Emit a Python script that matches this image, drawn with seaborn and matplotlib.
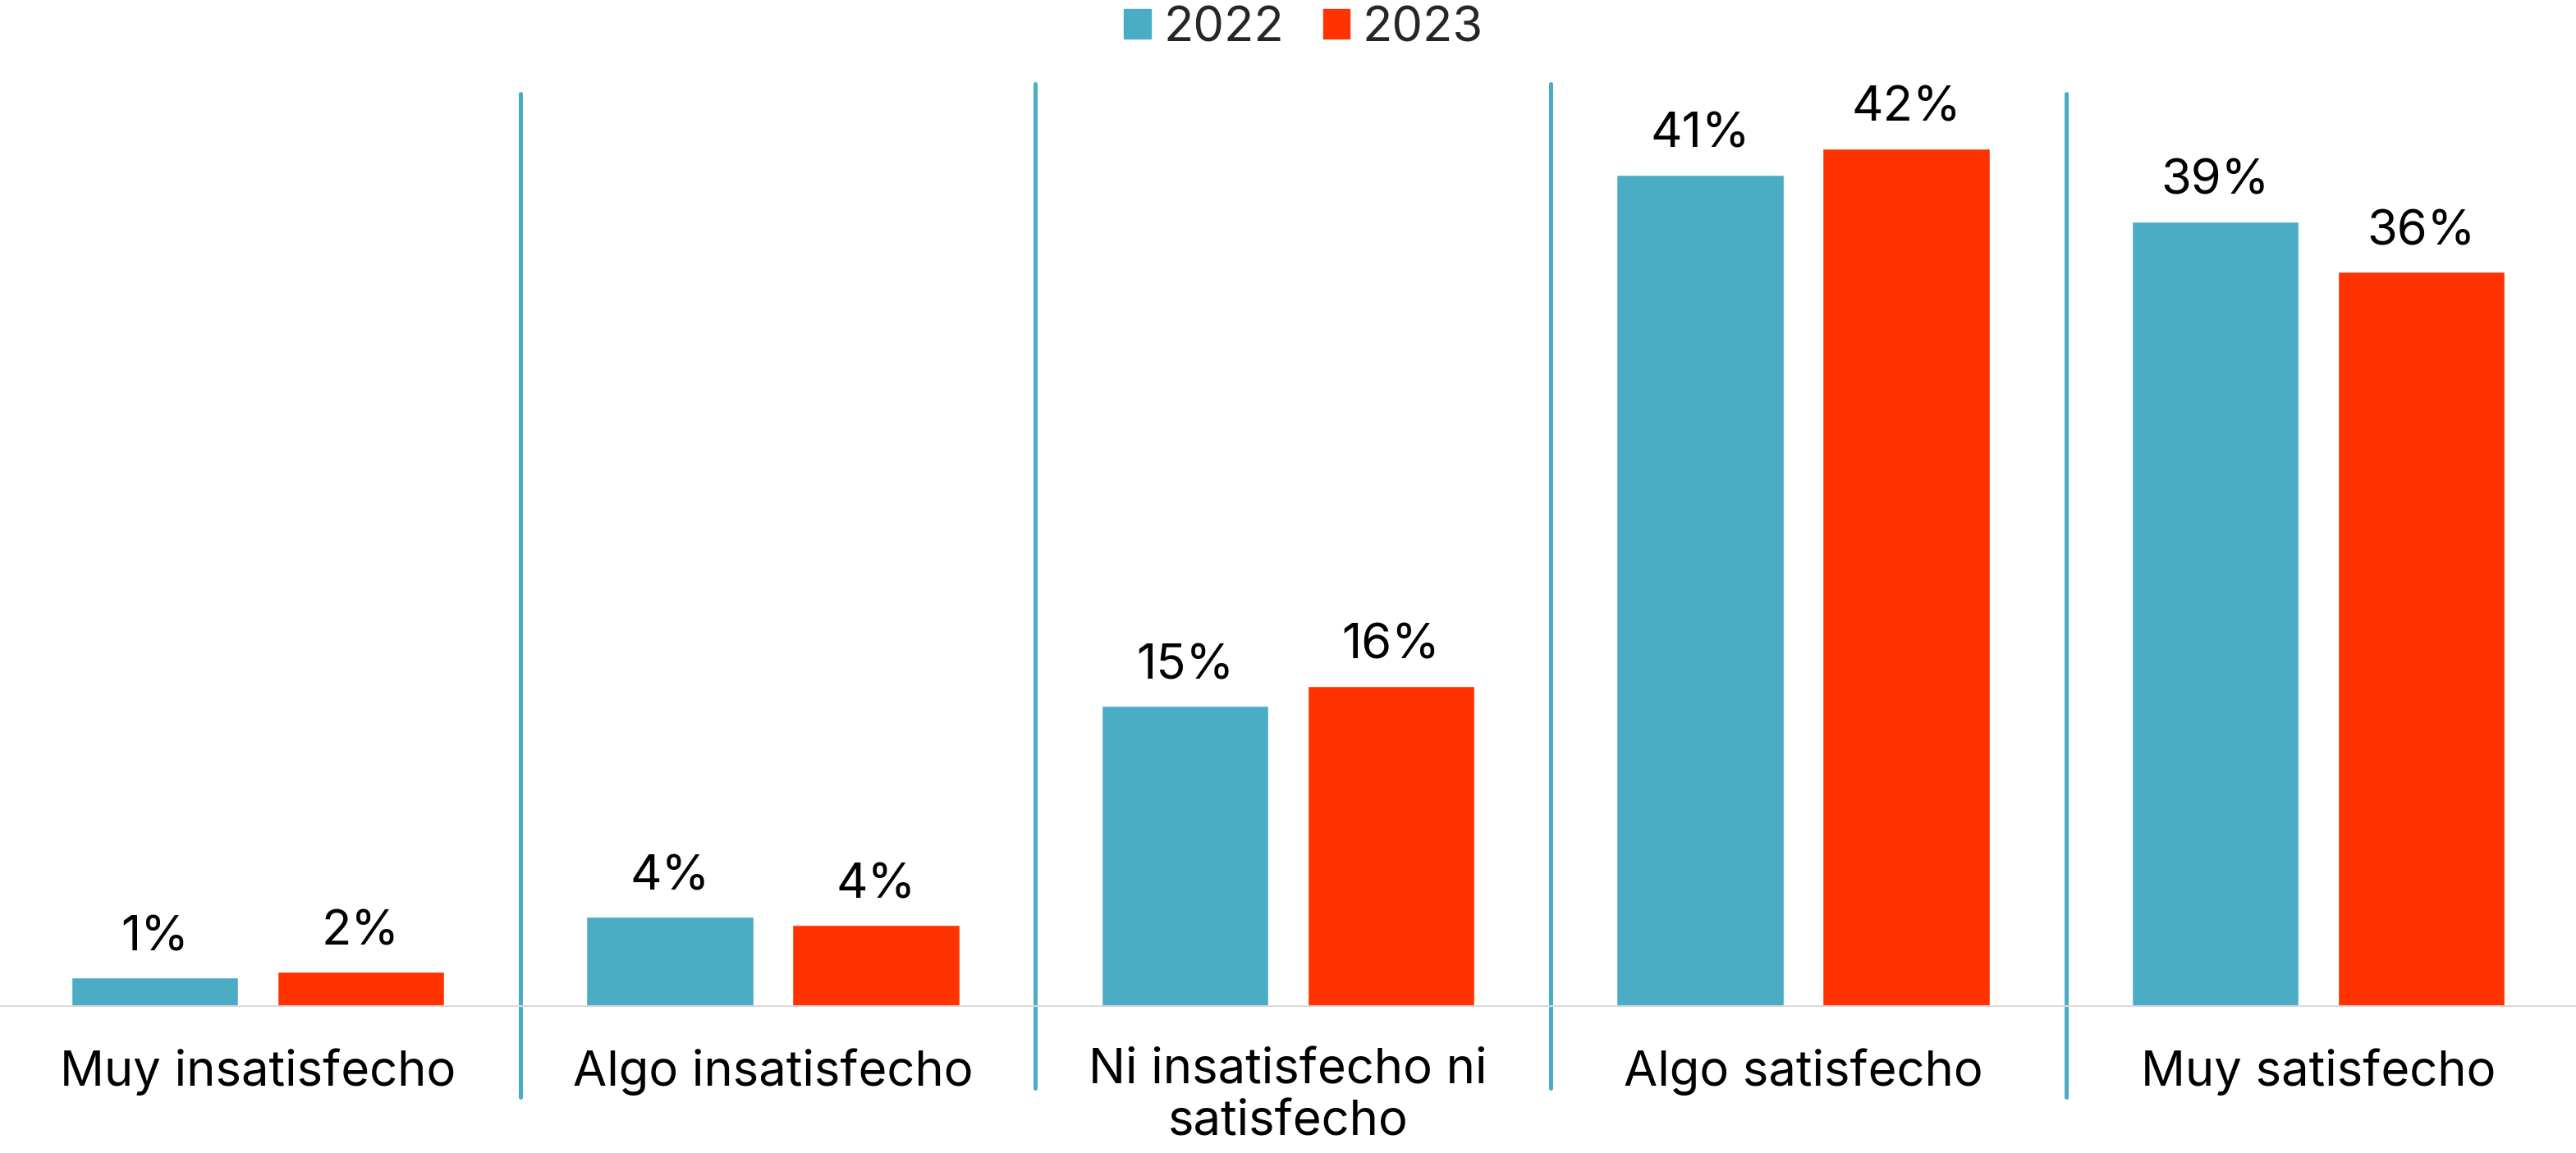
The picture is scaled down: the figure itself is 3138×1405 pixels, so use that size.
import pandas as pd
import matplotlib.pyplot as plt
import seaborn as sns

# -------------------------------
# Data
# -------------------------------
categorias = ["Muy insatisfecho", "Algo insatisfecho", "Ni insatisfecho ni\nsatisfecho",
              "Algo satisfecho", "Muy satisfecho"]
anios = ["2022", "2023"]
valores_2022 = [1.4, 4.4, 14.8, 41.0, 38.7]
valores_2023 = [1.7, 4.0, 15.8, 42.3, 36.2]

colores = {"2022": "#4BACC6", "2023": "#FF3300"}

df = pd.DataFrame({
    "Categoria": categorias * 2,
    "Anio": ["2022"] * len(categorias) + ["2023"] * len(categorias),
    "Valor": valores_2022 + valores_2023,
})

# -------------------------------
# Plot
# -------------------------------
sns.set_style("white")
plt.rcParams["font.family"] = ["Inter", "DejaVu Sans"]

fig = plt.figure(figsize=(31.38, 14.05), dpi=100)
ax = fig.add_axes([0.0, 0.1274, 1.0, 0.7986])

sns.barplot(data=df, x="Categoria", y="Valor", hue="Anio", hue_order=anios,
            palette=colores, width=0.8, gap=0.19, saturation=1, ax=ax)

ax.set_xlim(-0.5, len(categorias) - 0.5)
ax.set_ylim(0, 45.4)

# value labels
for cont in ax.containers:
    ax.bar_label(cont, labels=[f"{round(v.get_height())}%" for v in cont],
                 padding=15, fontsize=43, color="black")

# separators between categories
for i in range(len(categorias) - 1):
    if i in (0, 3):
        lo, hi = -0.099, 0.991
    else:
        lo, hi = -0.089, 1.002
    ax.axvline(i + 0.51, ymin=lo, ymax=hi, color="#4BACC6", lw=3.6, clip_on=False)

for s in ["top", "left", "right"]:
    ax.spines[s].set_visible(False)
ax.spines["bottom"].set_color("#D9D9D9")
ax.spines["bottom"].set_linewidth(1.5)

ax.set_xlabel("")
ax.set_ylabel("")
ax.set_yticks([])
ax.tick_params(axis="x", length=0, pad=37, labelsize=43, labelcolor="black")

# legend on top
ax.get_legend().remove()
handles = [plt.Rectangle((0, 0), 1, 1, color=colores[a]) for a in anios]
fig.legend(handles, anios, loc="upper center", bbox_to_anchor=(0.506, 1.033), ncol=2,
           frameon=False, fontsize=43, handlelength=0.55, handleheight=0.55,
           handletextpad=0.25, columnspacing=0.8)

plt.savefig("out.png", dpi=100)
